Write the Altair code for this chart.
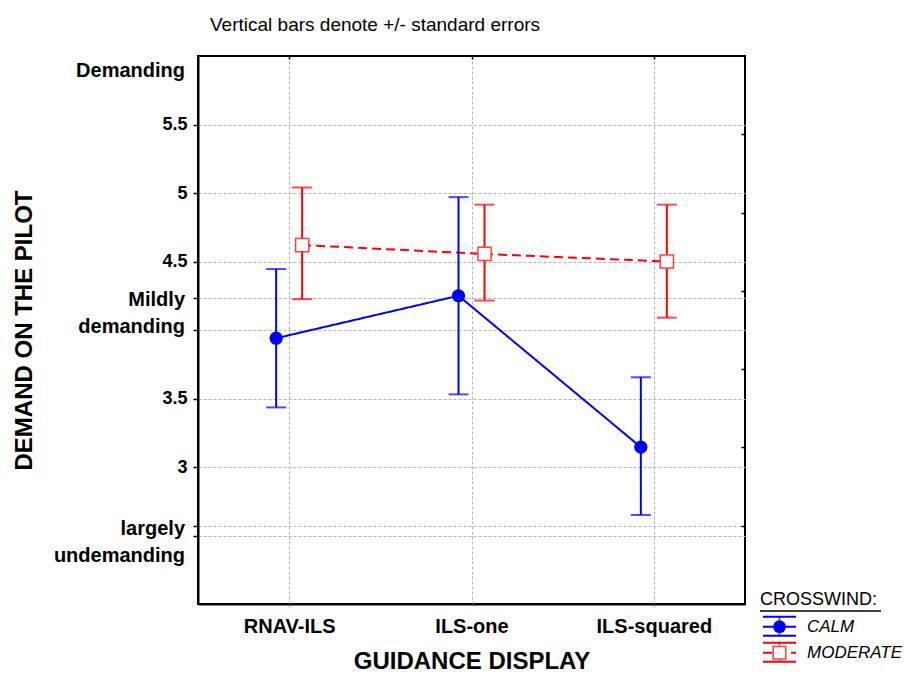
import altair as alt
import pandas as pd

# ---------------- data ----------------
categories = ["RNAV-ILS", "ILS-one", "ILS-squared"]
series = ["CALM", "MODERATE"]

calm_mean = [3.94, 4.25, 3.145]
calm_lo = [3.435, 3.53, 2.65]
calm_hi = [4.445, 4.97, 3.655]

mod_mean = [4.62, 4.555, 4.50]
mod_lo = [4.225, 4.215, 4.09]
mod_hi = [5.04, 4.915, 4.915]

y_tick_values = [2.5, 2.57, 3, 3.5, 4, 4.23, 4.5, 5, 5.5]
y_tick_labelled = [3, 3.5, 4.5, 5, 5.5]
word_labels = ["Demanding", "Mildly \ndemanding", "largely \nundemanding"]
word_values = [5.89, 4.22, 2.55]
right_tick_values = [1, 2, 3, 4, 5, 6]
legend_title = ["CROSSWIND:"]

rows = []
for i, c in enumerate(categories):
    rows.append(dict(cat=c, series="CALM", mean=calm_mean[i], lo=calm_lo[i], hi=calm_hi[i]))
for i, c in enumerate(categories):
    rows.append(dict(cat=c, series="MODERATE", mean=mod_mean[i], lo=mod_lo[i], hi=mod_hi[i]))
df = pd.DataFrame(rows)
df_words = pd.DataFrame({"label": word_labels, "value": word_values})
df_leg = pd.DataFrame({"series": series})
df_legtitle = pd.DataFrame({"t": legend_title})

BLUE = "#0000ff"
RED = "#ff0000"
GRID = "#b4b4b4"
FONT = "Liberation Sans"

xscale = alt.Scale(type="point", domain=categories, padding=0.5)
yscale = alt.Scale(domain=[2, 6], nice=False, zero=False)

label_expr = (
    "indexof([" + ",".join(str(v) for v in y_tick_labelled) + "], datum.value) >= 0 ? '' + datum.value : ''"
)

x_enc = alt.X(
    "cat:N", sort=categories, scale=xscale,
    axis=alt.Axis(
        title="GUIDANCE DISPLAY", titleFontSize=24, titleFontWeight="bold", titlePadding=13,
        labelFontSize=20, labelFontWeight="bold", labelPadding=12, labelAngle=0,
        ticks=False, domain=True, domainColor="black", domainWidth=2,
        grid=True, gridColor=GRID, gridDash=[3, 2], gridWidth=1,
        labelColor="black", titleColor="black",
    ),
)
xoff = alt.XOffset("series:N", scale=alt.Scale(type="point", domain=series, range=[-13, 13], padding=0))
color = alt.Color("series:N", scale=alt.Scale(domain=series, range=[BLUE, RED]), legend=None)
dash = alt.StrokeDash("series:N", scale=alt.Scale(domain=series, range=[[1, 0], [9, 5]]), legend=None)

y_axis = alt.Axis(
    title="DEMAND ON THE PILOT", titleFontSize=24, titleFontWeight="bold",
    titleX=-174, titleY=274, titleAngle=270, titleBaseline="middle", titleAlign="center",
    values=y_tick_values, labelExpr=label_expr,
    labelFontSize=18, labelFontWeight="bold", labelPadding=6, labelColor="black",
    tickSize=5, tickColor="black", tickWidth=1.5,
    domain=True, domainColor="black", domainWidth=2,
    grid=True, gridColor=GRID, gridDash=[3, 2], gridWidth=1, titleColor="black",
)

base = alt.Chart(df)

lines = base.mark_line(strokeWidth=2).encode(
    x=x_enc, xOffset=xoff,
    y=alt.Y("mean:Q", scale=yscale, axis=y_axis),
    color=color, strokeDash=dash, detail="series:N",
)

err_rules = base.mark_rule(strokeWidth=2).encode(
    x=x_enc, xOffset=xoff,
    y=alt.Y("lo:Q", scale=yscale), y2="hi:Q",
    color=color,
)

caps_lo = base.mark_tick(size=20, thickness=2).encode(
    x=x_enc, xOffset=xoff, y=alt.Y("lo:Q", scale=yscale), color=color,
)
caps_hi = base.mark_tick(size=20, thickness=2).encode(
    x=x_enc, xOffset=xoff, y=alt.Y("hi:Q", scale=yscale), color=color,
)

pts_calm = base.transform_filter(alt.datum.series == "CALM").mark_point(
    shape="circle", filled=True, size=175, opacity=1, color=BLUE
).encode(x=x_enc, xOffset=xoff, y=alt.Y("mean:Q", scale=yscale))

pts_mod = base.transform_filter(alt.datum.series == "MODERATE").mark_point(
    shape="square", filled=True, size=175, opacity=1, fill="white", stroke="#ff4040", strokeWidth=1.5
).encode(x=x_enc, xOffset=xoff, y=alt.Y("mean:Q", scale=yscale))

words = alt.Chart(df_words).mark_text(
    align="right", baseline="middle", fontSize=20, fontWeight="bold", font=FONT,
    lineBreak="\n", lineHeight=27, color="black",
).encode(
    x=alt.value(-13),
    y=alt.Y("value:Q", scale=yscale),
    text="label:N",
)

main = alt.layer(lines, err_rules, caps_lo, caps_hi, pts_calm, pts_mod, words)

# inner tick marks on the top and right frame
axes_layer = base.mark_point(opacity=0).encode(
    x=alt.X("cat:N", scale=alt.Scale(type="point", domain=categories, padding=0.5),
            axis=alt.Axis(orient="top", labels=False, domain=False, ticks=True, tickSize=3,
                          tickColor="black", tickWidth=1.5, offset=-3, title=None, grid=False)),
    y=alt.Y("mean:Q", scale=alt.Scale(domain=[0, 7], nice=False, zero=False),
            axis=alt.Axis(orient="right", values=right_tick_values, labels=False, domain=False,
                          ticks=True, tickSize=4, tickColor="black", tickWidth=1.5, offset=-4,
                          title=None, grid=False)),
)

# hand-built legend (below-right of the plot)
ly = alt.Y("series:N", scale=alt.Scale(type="point", domain=series, range=[570.7, 596.7], padding=0), axis=None)
leg = alt.Chart(df_leg)
SX0, SX1, SXC = 565, 598, 581.5

leg_cap_top = leg.mark_rule(strokeWidth=2, yOffset=-10).encode(
    x=alt.value(SX0), x2=alt.value(SX1), y=ly, color=color)
leg_cap_bot = leg.mark_rule(strokeWidth=2, yOffset=9).encode(
    x=alt.value(SX0), x2=alt.value(SX1), y=ly, color=color)
leg_stem = leg.mark_tick(orient="vertical", size=19, thickness=1.5, yOffset=-0.5).encode(
    x=alt.value(SXC), y=ly, color=color)
leg_mid = leg.mark_rule(strokeWidth=2).encode(
    x=alt.value(SX0), x2=alt.value(SX1), y=ly, color=color, strokeDash=dash)
leg_pt_calm = leg.transform_filter(alt.datum.series == "CALM").mark_point(
    shape="circle", filled=True, size=165, opacity=1, color=BLUE
).encode(x=alt.value(SXC), y=ly)
leg_pt_mod = leg.transform_filter(alt.datum.series == "MODERATE").mark_point(
    shape="square", filled=True, size=160, opacity=1, fill="white", stroke="#ff4040", strokeWidth=1.5
).encode(x=alt.value(SXC), y=ly)
leg_text = leg.mark_text(
    align="left", baseline="middle", fontSize=17, fontStyle="italic", font=FONT, color="black"
).encode(x=alt.value(609), y=ly, text="series:N")
leg_title = alt.Chart(df_legtitle).mark_text(
    align="left", baseline="middle", fontSize=18, font=FONT, color="black"
).encode(x=alt.value(562), y=alt.value(544), text="t:N")
leg_underline = alt.Chart(df_legtitle).mark_rule(strokeWidth=1.5, color="black").encode(
    x=alt.value(562), x2=alt.value(683), y=alt.value(555))

legend_group = alt.layer(
    leg_cap_top, leg_cap_bot, leg_stem, leg_mid, leg_pt_calm, leg_pt_mod,
    leg_text, leg_title, leg_underline,
)

chart = alt.layer(main, axes_layer, legend_group).resolve_scale(
    x="independent", y="independent"
).properties(
    width=547, height=548,
    title=alt.TitleParams(
        "Vertical bars denote +/- standard errors", anchor="start", frame="group",
        dx=12, fontSize=19, fontWeight="normal", font=FONT, color="black", offset=20,
    ),
    padding={"left": 4, "top": 8, "right": 0, "bottom": 5},
).configure(
    font=FONT,
).configure_view(
    stroke="black", strokeWidth=2,
)

chart.save("out.html", embed_options={"renderer": "svg", "actions": False})
